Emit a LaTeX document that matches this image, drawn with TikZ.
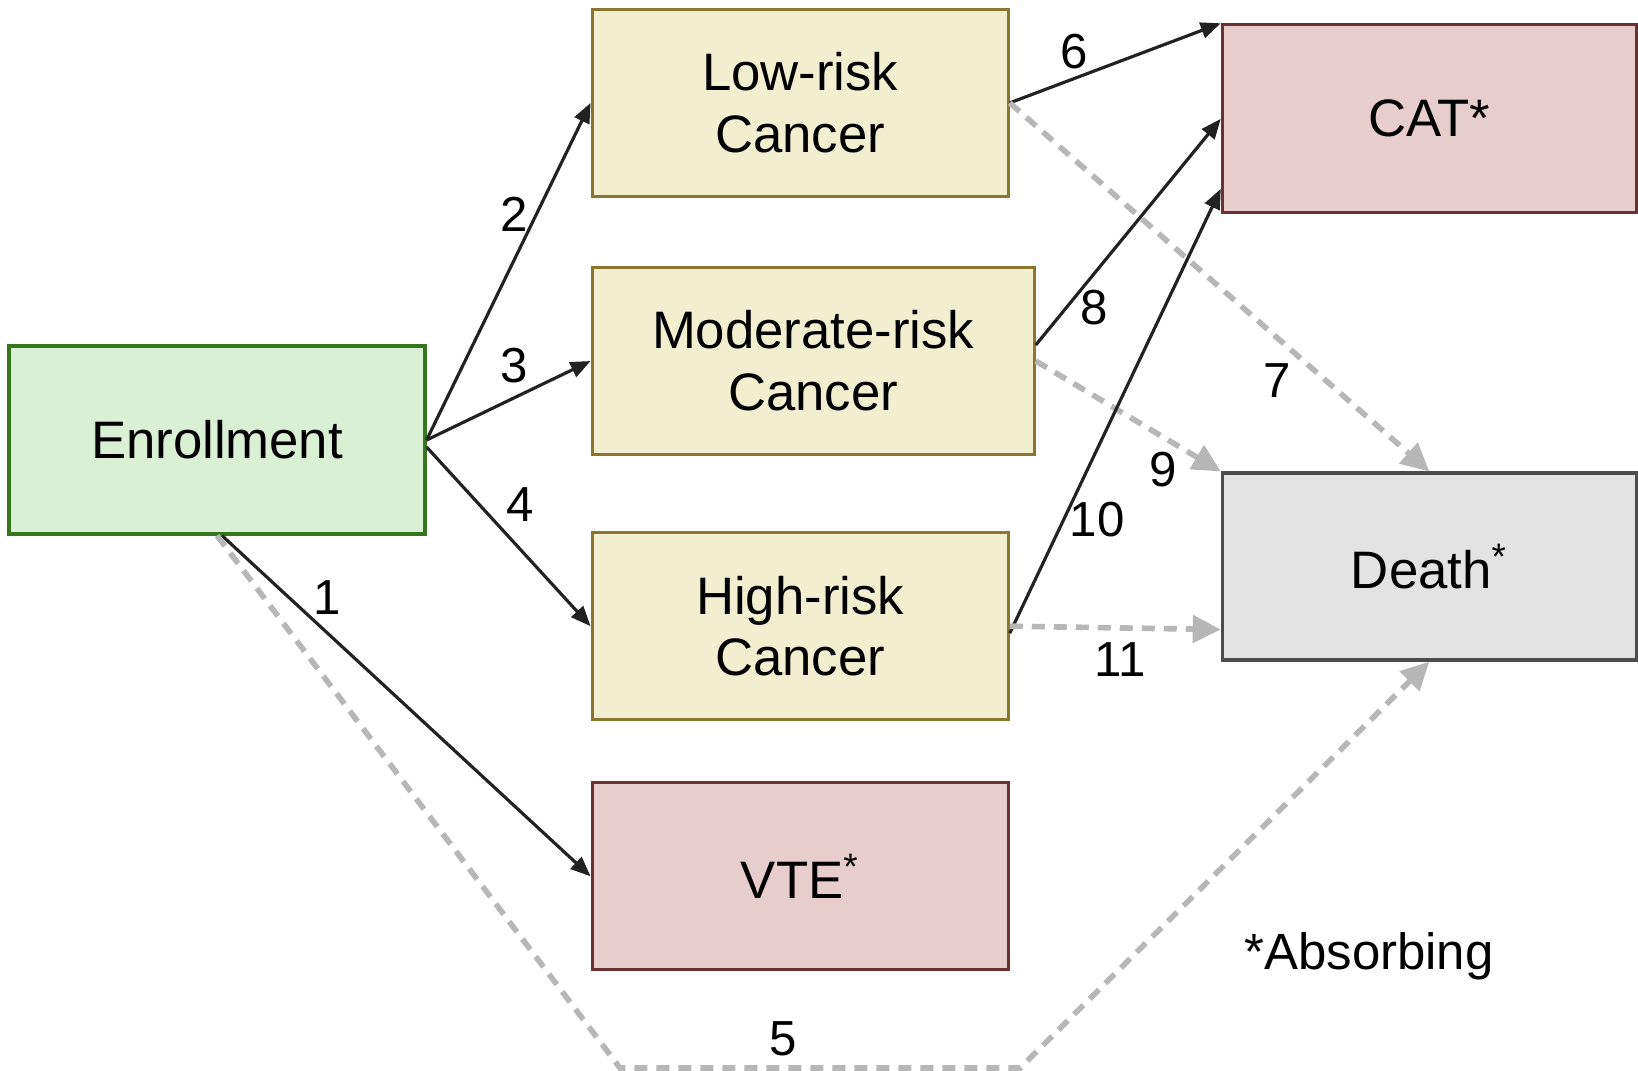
\documentclass[tikz,border=0pt]{standalone}
\usepackage{fontspec}
\setmainfont{Liberation Sans}
\usepackage{tikz}
\usetikzlibrary{positioning,arrows.meta}

\definecolor{enrollfill}{HTML}{D9F0D4}
\definecolor{enrolldraw}{HTML}{38761D}
\definecolor{cancerfill}{HTML}{F2EFD1}
\definecolor{cancerdraw}{HTML}{8C7530}
\definecolor{eventfill}{HTML}{E8CDCD}
\definecolor{eventdraw}{HTML}{6B3030}
\definecolor{deathfill}{HTML}{E3E3E3}
\definecolor{deathdraw}{HTML}{4D4D4D}
\definecolor{linedark}{HTML}{222222}
\definecolor{dashgray}{HTML}{B7B7B7}

\begin{document}
\begin{tikzpicture}[
    node distance=1.5cm,
    font=\fontsize{15}{17.6}\selectfont,
    enrollbox/.style={rectangle, draw=enrolldraw, fill=enrollfill, line width=0.9pt, minimum width=4.16cm, minimum height=1.88cm, align=center},
    cancerbox/.style={rectangle, draw=cancerdraw, fill=cancerfill, line width=0.9pt, minimum width=4.16cm, minimum height=1.87cm, align=center},
    eventbox/.style={rectangle, draw=eventdraw, fill=eventfill, line width=0.9pt, minimum width=4.16cm, minimum height=1.87cm, align=center},
    deathbox/.style={rectangle, draw=deathdraw, fill=deathfill, line width=0.9pt, minimum width=4.14cm, minimum height=1.87cm, align=center},
    arrow/.style={-{Triangle[length=0.2cm,width=0.16cm]}, line width=0.9pt, color=linedark},
    grayarrow/.style={-{Triangle[length=0.28cm,width=0.27cm]}, line width=1.6pt, color=dashgray, dash pattern=on 0.13cm off 0.09cm},
    num/.style={font=\fontsize{14}{16}\selectfont, inner sep=1pt}
]
    \useasboundingbox (0,0) rectangle (16.38,-10.70);

    % states
    \node[enrollbox] (enroll) at (2.17,-4.40) {Enrollment};
    \node[cancerbox, minimum width=4.42cm, right=1.64cm of enroll, yshift=0.79cm] (moderate) {Moderate-risk\\Cancer};
    \node[cancerbox, above=0.68cm of moderate.north west, anchor=south west] (low) {Low-risk\\Cancer};
    \node[cancerbox, below=0.75cm of moderate.south west, anchor=north west] (high) {High-risk\\Cancer};
    \node[eventbox, below=0.60cm of high] (vte) {VTE\textsuperscript{*}};
    \node[eventbox, minimum width=4.14cm, minimum height=1.88cm, right=2.11cm of low, yshift=-0.16cm] (cat) {CAT*};
    \node[deathbox, below=2.57cm of cat] (death) {Death\textsuperscript{*}};

    % bend points of transition 5
    \coordinate (c5a) at (6.20,-10.68);
    \coordinate (c5b) at (10.20,-10.68);

    % transitions
    \draw[arrow] ([xshift=0.05cm]enroll.south) -- (vte.west);
    \draw[arrow] (enroll.east) -- (low.west);
    \draw[arrow] (enroll.east) -- (moderate.west);
    \draw[arrow] ([yshift=-0.07cm]enroll.east) -- (high.west);
    \draw[grayarrow] (enroll.south) -- (c5a) -- (c5b) -- (death.south);
    \draw[arrow] (low.east) -- (cat.north west);
    \draw[grayarrow] (low.east) -- (death.north);
    \draw[arrow] ([yshift=0.16cm]moderate.east) -- (cat.west);
    \draw[grayarrow] (moderate.east) -- (death.north west);
    \draw[arrow] ([yshift=-0.07cm]high.east) -- ([yshift=-0.7cm]cat.west);
    \draw[grayarrow] (high.east) -- ([yshift=-0.63cm]death.west);

    % transition numbers
    \node[num] (n1) at (3.27,-5.98) {1};
    \node[num] (n2) at (5.14,-2.14) {2};
    \node[num] (n3) at (5.14,-3.66) {3};
    \node[num] (n4) at (5.20,-5.05) {4};
    \node[num] (n5) at (7.83,-10.39) {5};
    \node[num] (n6) at (10.74,-0.52) {6};
    \node[num] (n7) at (12.77,-3.81) {7};
    \node[num] (n8) at (10.94,-3.08) {8};
    \node[num] (n9) at (11.63,-4.70) {9};
    \node[num] (n10) at (10.97,-5.20) {10};
    \node[num] (n11) at (11.20,-6.60) {11};

    \node[anchor=base, font=\fontsize{14.5}{16}\selectfont] (absorb) at (13.69,-9.69) {*Absorbing};
\end{tikzpicture}
\end{document}
